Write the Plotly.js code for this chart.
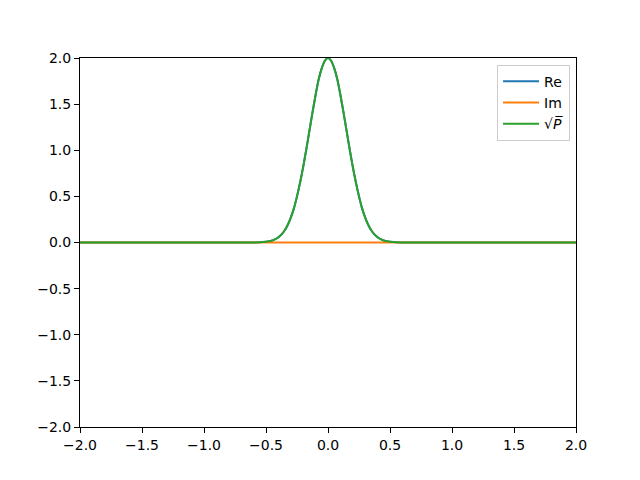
<!DOCTYPE html>
<html>
<head>
<meta charset="utf-8">
<script src="https://cdn.plot.ly/plotly-3.0.1.min.js"></script>
<style>html,body{margin:0;padding:0;background:#fff;}</style>
</head>
<body>
<div id="chart" style="width:640px;height:480px;"></div>
<script>
// x samples
const xVals = [-2.0, -1.0, -0.6, -0.55, -0.5, -0.475, -0.45, -0.425, -0.4, -0.375, -0.35, -0.325, -0.3, -0.275, -0.25, -0.225, -0.2, -0.175, -0.15, -0.125, -0.1, -0.075, -0.05, -0.025, 0.0,
  0.025, 0.05, 0.075, 0.1, 0.125, 0.15, 0.175, 0.2, 0.225, 0.25, 0.275, 0.3, 0.325, 0.35, 0.375, 0.4, 0.425, 0.45, 0.475, 0.5, 0.55, 0.6, 1.0, 2.0];
// Real part
const reVals = [0, 0, 0, 0.002, 0.008, 0.013, 0.022, 0.036, 0.057, 0.088, 0.13, 0.19, 0.27, 0.37, 0.50, 0.65, 0.82, 1.01, 1.21, 1.41, 1.60, 1.77, 1.89, 1.97, 2.0,
  1.97, 1.89, 1.77, 1.60, 1.41, 1.21, 1.01, 0.82, 0.65, 0.50, 0.37, 0.27, 0.19, 0.13, 0.088, 0.057, 0.036, 0.022, 0.013, 0.008, 0.002, 0, 0, 0];
// Imaginary part
const imVals = [0, 0, 0, 0, 0, 0, 0, 0, 0, 0, 0, 0, 0, 0, 0, 0, 0, 0, 0, 0, 0, 0, 0, 0, 0,
  0, 0, 0, 0, 0, 0, 0, 0, 0, 0, 0, 0, 0, 0, 0, 0, 0, 0, 0, 0, 0, 0, 0, 0];
// sqrt(P)
const sqrtPVals = [0, 0, 0, 0.002, 0.008, 0.013, 0.022, 0.036, 0.057, 0.088, 0.13, 0.19, 0.27, 0.37, 0.50, 0.65, 0.82, 1.01, 1.21, 1.41, 1.60, 1.77, 1.89, 1.97, 2.0,
  1.97, 1.89, 1.77, 1.60, 1.41, 1.21, 1.01, 0.82, 0.65, 0.50, 0.37, 0.27, 0.19, 0.13, 0.088, 0.057, 0.036, 0.022, 0.013, 0.008, 0.002, 0, 0, 0];
const seriesNames = ['Re', 'Im', '√<i>P̅</i>'];
const tickVals = [-2.0, -1.5, -1.0, -0.5, 0.0, 0.5, 1.0, 1.5, 2.0];

const colors = ['#1f77b4', '#ff7f0e', '#2ca02c'];
const ys = [reVals, imVals, sqrtPVals];
const data = ys.map((y, i) => ({
  x: xVals, y: y, type: 'scatter', mode: 'lines', name: seriesNames[i],
  line: {color: colors[i], width: 2, shape: 'spline', smoothing: 0.6}
}));

const axisCommon = {
  showgrid: false, zeroline: false, showline: true, mirror: true,
  linecolor: '#000', linewidth: 1, ticks: 'outside', ticklen: 5, tickwidth: 1, tickcolor: '#000',
  tickvals: tickVals, tickformat: '.1f', tickfont: {family: 'DejaVu Sans', size: 14, color: '#000'}
};

const layout = {
  width: 640, height: 480,
  margin: {l: 80, r: 64, t: 58, b: 53, pad: 0},
  paper_bgcolor: '#fff', plot_bgcolor: '#fff',
  font: {family: 'DejaVu Sans', size: 14, color: '#000'},
  xaxis: Object.assign({range: [-2, 2]}, axisCommon),
  yaxis: Object.assign({range: [-2, 2]}, axisCommon),
  showlegend: true,
  legend: {x: 0.988, y: 0.982, xanchor: 'right', yanchor: 'top',
    bgcolor: 'rgba(255,255,255,0.8)', bordercolor: '#cccccc', borderwidth: 1,
    font: {family: 'DejaVu Sans', size: 14, color: '#000'}, itemwidth: 36}
};

Plotly.newPlot('chart', data, layout, {displayModeBar: false, staticPlot: true});
</script>
</body>
</html>
